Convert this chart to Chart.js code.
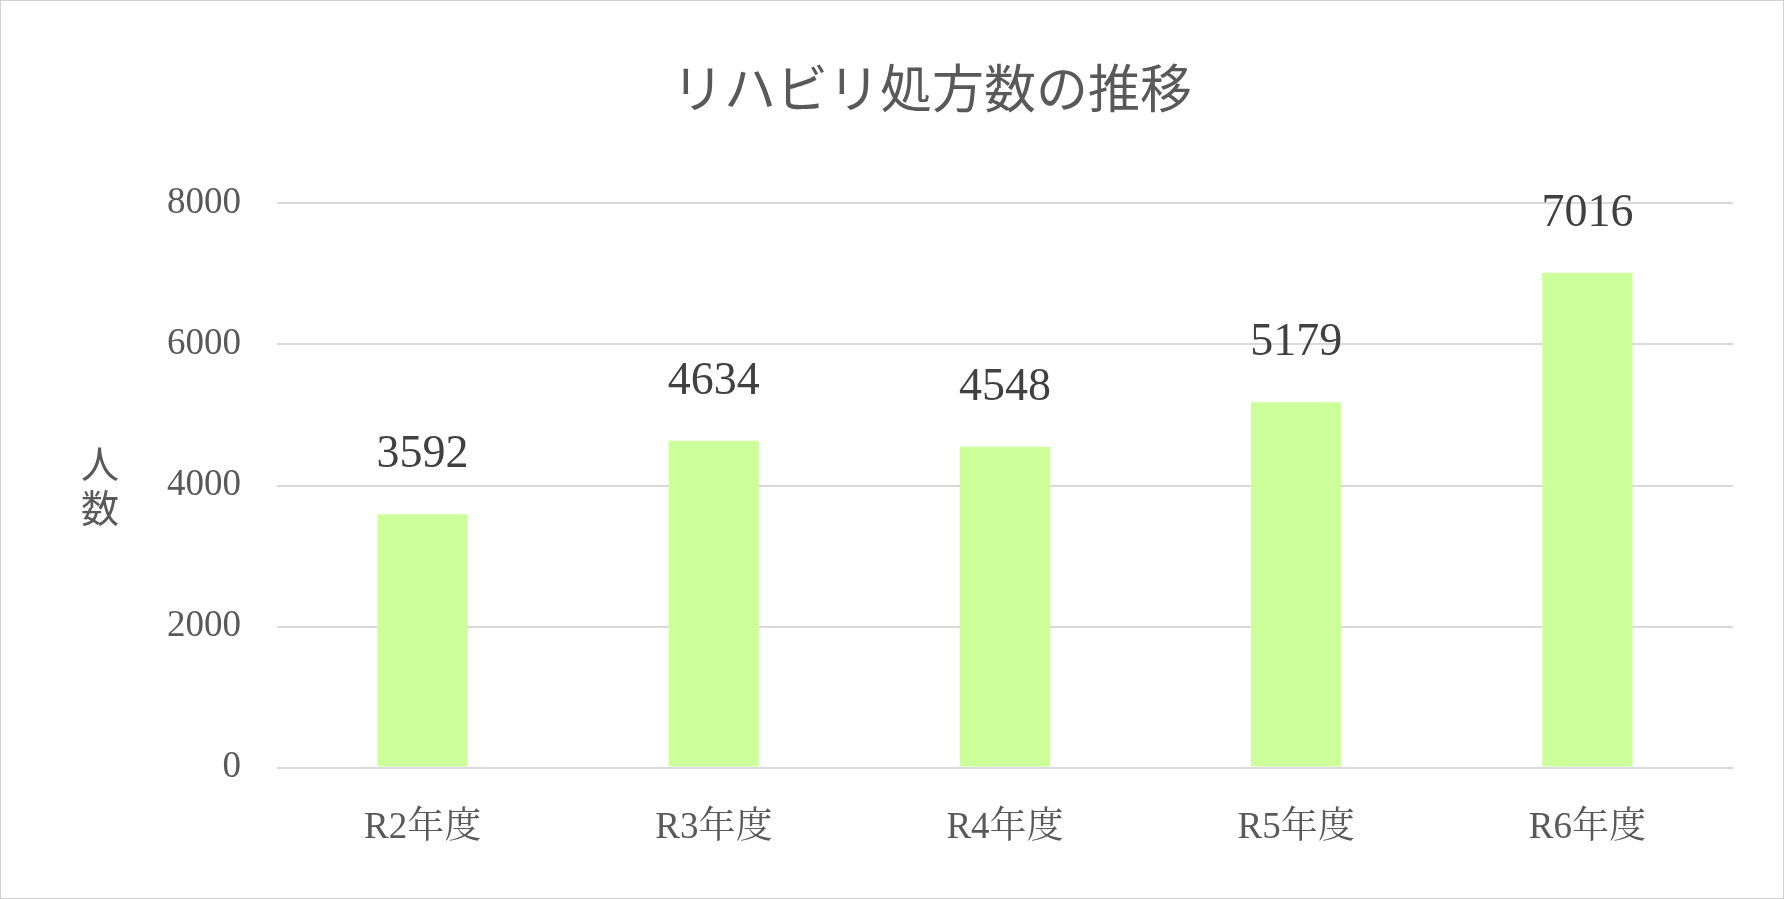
<!DOCTYPE html>
<html><head><meta charset="utf-8">
<script src="https://cdn.jsdelivr.net/npm/chart.js@4/dist/chart.umd.min.js"></script>
<style>
html,body{margin:0;padding:0;background:#fff;}
#wrap{position:absolute;left:0;top:0;width:1782px;height:897px;border:1px solid #d0d0d0;}
</style></head><body>
<div id="wrap"><canvas id="c" width="1782" height="897"></canvas></div>
<script>
const categories = ["R2年度","R3年度","R4年度","R5年度","R6年度"];
const values = [3592, 4634, 4548, 5179, 7016];
const yTicks = [0, 2000, 4000, 6000, 8000];
const titleText = "リハビリ処方数の推移";
const yAxisTitle = ["人","数"];

const FONT = "'Liberation Serif','Noto Serif CJK JP','Noto Sans CJK JP',serif";

const labelsPlugin = {
  id: 'lbl',
  afterDatasetsDraw(chart) {
    const ctx = chart.ctx;
    const meta = chart.getDatasetMeta(0);
    ctx.save();
    ctx.fillStyle = '#404040';
    ctx.font = "46px " + FONT;
    ctx.textAlign = 'center';
    ctx.textBaseline = 'bottom';
    meta.data.forEach((bar, i) => {
      ctx.fillText(String(values[i]), bar.x, bar.y - 36);
    });
    ctx.fillStyle = '#595959';
    ctx.font = "38px 'Noto Sans CJK JP',sans-serif";
    ctx.textBaseline = 'middle';
    const yc = (chart.chartArea.top + chart.chartArea.bottom) / 2;
    ctx.fillText(yAxisTitle[0], 99, yc - 22);
    ctx.fillText(yAxisTitle[1], 99, yc + 22);
    ctx.restore();
  }
};

new Chart(document.getElementById('c'), {
  type: 'bar',
  data: {
    labels: categories,
    datasets: [{ data: values, backgroundColor: '#ccff99', barPercentage: 0.31, categoryPercentage: 1 }]
  },
  options: {
    responsive: false,
    animation: false,
    layout: { padding: { left: 130, right: 50, top: 20, bottom: 18 } },
    plugins: {
      legend: { display: false },
      tooltip: { enabled: false },
      title: {
        display: true, text: titleText, color: '#595959',
        font: { family: "'Noto Sans CJK JP',sans-serif", size: 52, weight: 'normal' },
        padding: { top: 36, bottom: 84 }
      }
    },
    scales: {
      y: {
        min: 0, max: 8000,
        afterBuildTicks(axis) { axis.ticks = yTicks.map(v => ({ value: v })); },
        border: { display: false },
        grid: { color: '#d9d9d9', lineWidth: 2, drawTicks: false },
        ticks: { color: '#595959', font: { family: FONT, size: 37 }, padding: 36, callback: v => String(v) }
      },
      x: {
        border: { display: false },
        grid: { display: false },
        ticks: { color: '#595959', font: { family: FONT, size: 37 }, padding: 30 }
      }
    }
  },
  plugins: [labelsPlugin]
});
</script>
</body></html>
